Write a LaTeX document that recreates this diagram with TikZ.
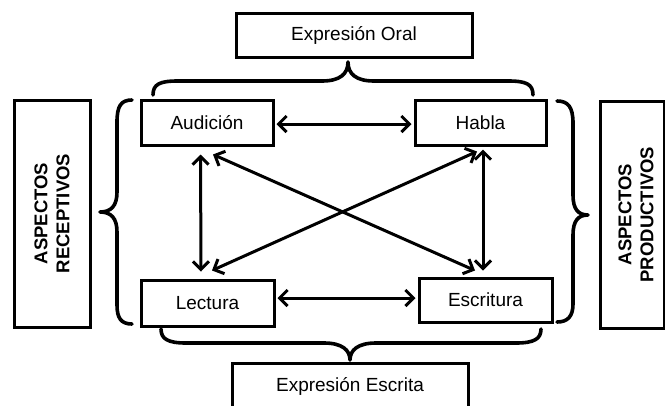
\documentclass[tikz,border=0pt]{standalone}
\usepackage{fontspec}
\setmainfont{Liberation Sans}
\usetikzlibrary{arrows.meta}
\tikzset{
  box/.style={draw, line width=3pt, inner sep=0pt, font=\fontsize{19}{22}\selectfont},
  sidetxt/.style={rotate=90, align=center, inner sep=0pt, font=\fontsize{18.5}{22}\selectfont\bfseries},
  arr/.style={line width=3pt, {Straight Barb[length=8pt,width=16pt]}-{Straight Barb[length=8pt,width=16pt]}},
  brace/.style={line width=3.6pt, line cap=round, line join=round}
}
\begin{document}
\begin{tikzpicture}[x=1pt,y=-1pt]
\useasboundingbox (0,0) rectangle (665,405);
\clip (0,0) rectangle (665,405);
% boxes
\node[box, minimum width=236pt, minimum height=44pt] (oral) at (354,35) {Expresión Oral};
\node[box, minimum width=132pt, minimum height=45pt] (aud) at (207,122.5) {Audición};
\node[box, minimum width=131pt, minimum height=45pt] (hab) at (480.5,122.5) {Habla};
\node[box, minimum width=133pt, minimum height=46pt] (lec) at (207.5,303) {Lectura};
\node[box, minimum width=133pt, minimum height=44pt] (esc) at (485.5,300) {Escritura};
\node[box, minimum width=236pt, minimum height=46pt] (escr) at (350,386) {Expresión Escrita};
\node[box, minimum width=76pt, minimum height=227pt] (rec) at (52,213.5) {};
\node[sidetxt] (rectxt) at (52,213.5) {ASPECTOS\\RECEPTIVOS};
\node[box, minimum width=64pt, minimum height=227pt] (pro) at (632,214.5) {};
\node[sidetxt] (protxt) at (636,214.5) {ASPECTOS\\PRODUCTIVOS};
% arrows
\draw[arr] ([xshift=2pt,yshift=-1.5pt]aud.east) -- ([xshift=-2pt,yshift=-1.5pt]hab.west);
\draw[arr] ([xshift=2pt,yshift=5pt]lec.east) -- ([xshift=-2pt,yshift=5pt]lec.east -| esc.west);
\draw[arr] ([xshift=-6.5pt,yshift=-8pt]aud.south) -- ([xshift=-6.5pt,yshift=7pt]lec.north);
\draw[arr] ([xshift=2.5pt,yshift=-3pt]hab.south) -- ([xshift=-2.5pt,yshift=6pt]esc.north);
\draw[arr] ([xshift=6pt,yshift=-8pt]aud.south) -- ([xshift=-10.5pt,yshift=6pt]esc.north);
\draw[arr] ([xshift=-3.5pt,yshift=-5pt]hab.south) -- ([xshift=4.5pt,yshift=8pt]lec.north);
% braces
\draw[brace] (153,95) .. controls (153,84) and (160,81) .. (178,81) -- (322,81)
  .. controls (340,81) and (348,74) .. (348,62)
  .. controls (348,74) and (356,81) .. (374,81) -- (508,81)
  .. controls (526,81) and (533,84) .. (533,95);
\draw[brace] (161,329) .. controls (161,339) and (168,343) .. (186,343) -- (324,343)
  .. controls (342,343) and (350,350) .. (350,360)
  .. controls (350,350) and (358,343) .. (376,343) -- (516,343)
  .. controls (534,343) and (541,339) .. (541,329);
\draw[brace] (132,100) .. controls (121,100) and (117,106) .. (117,122) -- (117,192)
  .. controls (117,206) and (111,212) .. (100,212)
  .. controls (111,212) and (117,218) .. (117,232) -- (117,305)
  .. controls (117,318) and (121,324) .. (132,324);
\draw[brace] (557,101) .. controls (568,101) and (573,107) .. (573,123) -- (573,195)
  .. controls (573,209) and (578,215) .. (588,215)
  .. controls (578,215) and (573,221) .. (573,235) -- (573,304)
  .. controls (573,316) and (568,322) .. (557,322);
\end{tikzpicture}
\end{document}
